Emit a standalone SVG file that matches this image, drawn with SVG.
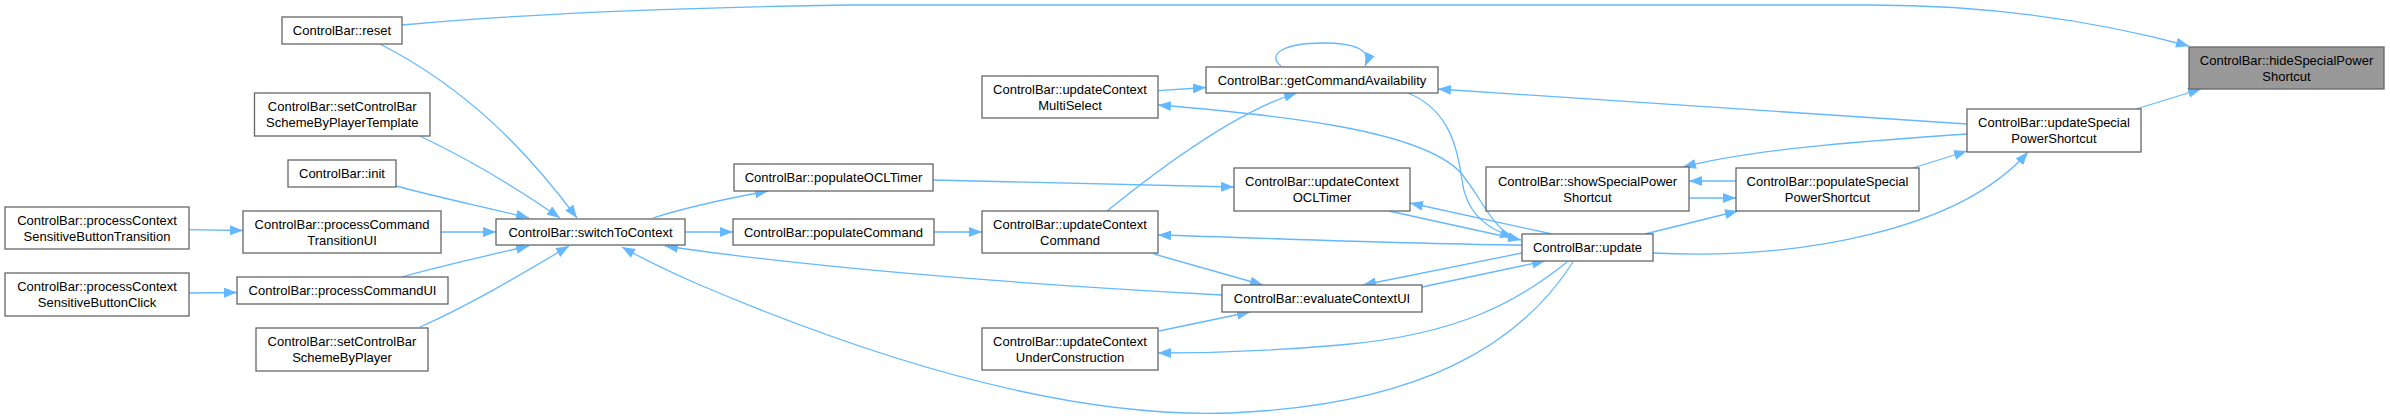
<svg xmlns="http://www.w3.org/2000/svg" width="2390" height="418" viewBox="0 0 2390 418">
<defs>
<marker id="ah" viewBox="0 0 13 10" refX="13" refY="5" markerWidth="13" markerHeight="10" markerUnits="userSpaceOnUse" orient="auto">
<path d="M0,0 L13,5 L0,10 z" fill="#63b8ff"/>
</marker>
</defs>
<style>
.n rect{fill:#ffffff;stroke:#666666;stroke-width:1.3}
.n.h rect{fill:#999999}
.n text{font-family:"Liberation Sans",Arial,sans-serif;font-size:13px;fill:#000000;text-anchor:middle}
.e path{fill:none;stroke:#63b8ff;stroke-width:1.3;marker-end:url(#ah)}
.e path.nm{marker-end:none}
</style>
<rect width="2390" height="418" fill="#ffffff"/>
<g id="edges" class="e">
<path d="M402,25 C500,16 650,8 850,5 L1870,5 C1990,5 2100,22 2189,46"/>
<path d="M380,44 C470,90 530,155 577,218"/>
<path d="M420,136 C470,160 520,190 560,218"/>
<path d="M396,186 C440,198 490,208 529,218"/>
<path d="M441,232 L496,232"/>
<path d="M402,277 C440,266 490,255 529,246"/>
<path d="M420,327 C470,305 520,275 569,246"/>
<path d="M189,229.7 L243,230.5"/>
<path d="M189,293 L237,292.5"/>
<path d="M653,218 C690,206 730,198 768,191"/>
<path d="M685,232 L733,232"/>
<path d="M933,180 L1234,187"/>
<path d="M934,232 L982,232"/>
<path d="M1107,211 C1170,160 1240,110 1297,93"/>
<path d="M1158,90.7 L1206,87.5"/>
<path d="M1281,66 C1266,54 1285,43 1322,43 C1356,43 1372,50 1365,66"/>
<path d="M1154,254 L1263,285"/>
<path d="M1159,331 L1250,312"/>
<path d="M1222,295 C1000,283 800,266 665,246"/>
<path d="M1573,262 C1520,345 1420,405 1230,413 C1080,418 900,370 700,285 C670,272 645,260 622,247"/>
<path d="M1567,262 C1520,300 1460,335 1340,345 C1260,352 1200,353 1158,353"/>
<path d="M1522,253 L1363,285"/>
<path d="M1422,287 L1545,261"/>
<path d="M1522,245 C1400,244 1270,238 1158,235"/>
<path d="M1552,234 L1410,203"/>
<path d="M1389,211 L1521,240"/>
<path d="M1408,93 C1450,110 1458,150 1462,180 C1466,215 1490,230 1513,237"/>
<path d="M1513,237 C1490,225 1480,195 1460,172 C1420,130 1280,115 1158,105"/>
<path d="M1645,234 L1738,211"/>
<path d="M1653,253 C1800,260 1960,230 2028,152"/>
<path d="M1913,168 L1967,151"/>
<path d="M1689,198 L1736,198"/>
<path d="M1736,181 L1689,181"/>
<path d="M1967,134 C1850,142 1750,150 1683,167"/>
<path d="M1967,124 L1438,89"/>
<path d="M2136,109 L2201,89"/>
</g>
<g id="reset" class="n"><rect x="282" y="17" width="120" height="27"/><text x="342" y="35">ControlBar::reset</text></g>
<g id="setSchemeTemplate" class="n"><rect x="254.5" y="93" width="175.5" height="43"/><text x="342.25" y="111">ControlBar::setControlBar</text><text x="342.25" y="127">SchemeByPlayerTemplate</text></g>
<g id="init" class="n"><rect x="288" y="160" width="108" height="27"/><text x="342" y="178">ControlBar::init</text></g>
<g id="processCommandTransitionUI" class="n"><rect x="243" y="211" width="198" height="42"/><text x="342" y="228.5">ControlBar::processCommand</text><text x="342" y="244.5">TransitionUI</text></g>
<g id="processCommandUI" class="n"><rect x="237" y="277" width="211" height="27"/><text x="342.5" y="295">ControlBar::processCommandUI</text></g>
<g id="setSchemeByPlayer" class="n"><rect x="256" y="328" width="172" height="43"/><text x="342" y="346">ControlBar::setControlBar</text><text x="342" y="362">SchemeByPlayer</text></g>
<g id="pcsbTransition" class="n"><rect x="5" y="207" width="184" height="42"/><text x="97" y="224.5">ControlBar::processContext</text><text x="97" y="240.5">SensitiveButtonTransition</text></g>
<g id="pcsbClick" class="n"><rect x="5" y="273" width="184" height="43"/><text x="97" y="291">ControlBar::processContext</text><text x="97" y="307">SensitiveButtonClick</text></g>
<g id="switchToContext" class="n"><rect x="496" y="219" width="189" height="26"/><text x="590.5" y="236.5">ControlBar::switchToContext</text></g>
<g id="populateOCLTimer" class="n"><rect x="734" y="164" width="199" height="27"/><text x="833.5" y="182">ControlBar::populateOCLTimer</text></g>
<g id="populateCommand" class="n"><rect x="733" y="219" width="201" height="26"/><text x="833.5" y="236.5">ControlBar::populateCommand</text></g>
<g id="updateContextMultiSelect" class="n"><rect x="982" y="76" width="176" height="42"/><text x="1070" y="93.5">ControlBar::updateContext</text><text x="1070" y="109.5">MultiSelect</text></g>
<g id="updateContextCommand" class="n"><rect x="982" y="211" width="176" height="42"/><text x="1070" y="228.5">ControlBar::updateContext</text><text x="1070" y="244.5">Command</text></g>
<g id="updateContextUnderConstruction" class="n"><rect x="982" y="328" width="176" height="42"/><text x="1070" y="345.5">ControlBar::updateContext</text><text x="1070" y="361.5">UnderConstruction</text></g>
<g id="getCommandAvailability" class="n"><rect x="1206" y="67" width="232" height="26"/><text x="1322" y="84.5">ControlBar::getCommandAvailability</text></g>
<g id="updateContextOCLTimer" class="n"><rect x="1234" y="168" width="176" height="43"/><text x="1322" y="186">ControlBar::updateContext</text><text x="1322" y="202">OCLTimer</text></g>
<g id="evaluateContextUI" class="n"><rect x="1222" y="285" width="200" height="27"/><text x="1322" y="303">ControlBar::evaluateContextUI</text></g>
<g id="update" class="n"><rect x="1522" y="234" width="131" height="27"/><text x="1587.5" y="252">ControlBar::update</text></g>
<g id="showSpecialPowerShortcut" class="n"><rect x="1486" y="167" width="203" height="44"/><text x="1587.5" y="185.5">ControlBar::showSpecialPower</text><text x="1587.5" y="201.5">Shortcut</text></g>
<g id="populateSpecialPowerShortcut" class="n"><rect x="1736" y="168" width="183" height="43"/><text x="1827.5" y="186">ControlBar::populateSpecial</text><text x="1827.5" y="202">PowerShortcut</text></g>
<g id="updateSpecialPowerShortcut" class="n"><rect x="1967" y="109" width="174" height="43"/><text x="2054" y="127">ControlBar::updateSpecial</text><text x="2054" y="143">PowerShortcut</text></g>
<g id="hideSpecialPowerShortcut" class="n h"><rect x="2189" y="47" width="195" height="42"/><text x="2286.5" y="64.5">ControlBar::hideSpecialPower</text><text x="2286.5" y="80.5">Shortcut</text></g>
</svg>
